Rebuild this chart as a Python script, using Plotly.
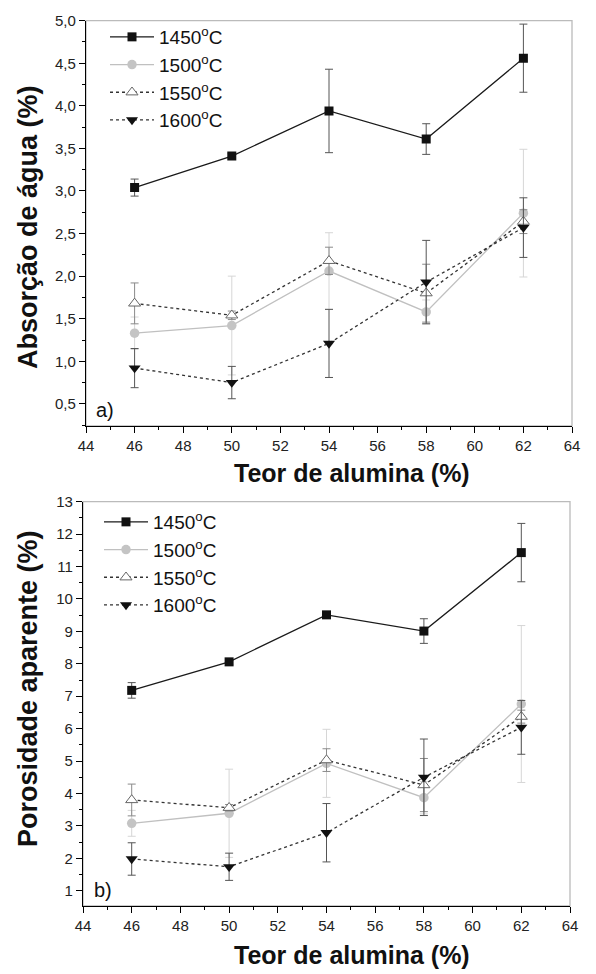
import plotly.graph_objects as go

# ---- data ----
alumina = [46, 50, 54, 58, 62]
series_names = ["1450<sup>o</sup>C", "1500<sup>o</sup>C", "1550<sup>o</sup>C", "1600<sup>o</sup>C"]

abs_1450 = [3.04, 3.41, 3.94, 3.61, 4.56]
abs_1450_err = [0.10, 0.03, 0.49, 0.18, 0.40]
abs_1500 = [1.33, 1.42, 2.06, 1.58, 2.74]
abs_1500_err = [0.19, 0.58, 0.45, 0.14, 0.75]
abs_1550 = [1.68, 1.54, 2.18, 1.80, 2.64]
abs_1550_err = [0.24, 0.05, 0.16, 0.34, 0.14]
abs_1600 = [0.92, 0.75, 1.21, 1.93, 2.57]
abs_1600_err = [0.23, 0.19, 0.40, 0.49, 0.35]

por_1450 = [7.18, 8.06, 9.51, 9.01, 11.43]
por_1450_err = [0.24, 0.08, 0.08, 0.38, 0.90]
por_1500 = [3.08, 3.39, 4.93, 3.87, 6.76]
por_1500_err = [0.40, 1.36, 1.05, 0.50, 2.42]
por_1550 = [3.80, 3.56, 5.03, 4.26, 6.37]
por_1550_err = [0.49, 0.10, 0.35, 0.82, 0.20]
por_1600 = [1.98, 1.74, 2.79, 4.50, 6.04]
por_1600_err = [0.50, 0.42, 0.90, 1.18, 0.83]

FONT = "Arial, Liberation Sans, sans-serif"
W, H = 596, 974

styles = [
    dict(line=dict(color="#1a1a1a", width=1.3, dash="solid"),
         marker=dict(symbol="square", size=9, color="#111111", line=dict(width=0)),
         ecolor="#555555"),
    dict(line=dict(color="#c0c0c0", width=1.3, dash="solid"),
         marker=dict(symbol="circle", size=9.5, color="#c4c4c4", line=dict(width=0)),
         ecolor="#d6d6d6"),
    dict(line=dict(color="#333333", width=1.3, dash="dot"),
         marker=dict(symbol="triangle-up", size=10.5, color="white", line=dict(width=1, color="#666666")),
         ecolor="#8a8a8a"),
    dict(line=dict(color="#333333", width=1.3, dash="dot"),
         marker=dict(symbol="triangle-down", size=10.5, color="#111111", line=dict(width=0)),
         ecolor="#555555"),
]

fig = go.Figure()

top_sets = [(abs_1450, abs_1450_err), (abs_1500, abs_1500_err), (abs_1550, abs_1550_err), (abs_1600, abs_1600_err)]
bot_sets = [(por_1450, por_1450_err), (por_1500, por_1500_err), (por_1550, por_1550_err), (por_1600, por_1600_err)]

for i, (vals, errs) in enumerate(top_sets):
    s = styles[i]
    fig.add_trace(go.Scatter(
        x=alumina, y=vals, mode="lines+markers", name=series_names[i],
        line=s["line"], marker=s["marker"],
        error_y=dict(type="data", array=errs, visible=True, color=s["ecolor"], thickness=1, width=4),
        xaxis="x", yaxis="y", legend="legend"))

for i, (vals, errs) in enumerate(bot_sets):
    s = styles[i]
    fig.add_trace(go.Scatter(
        x=alumina, y=vals, mode="lines+markers", name=series_names[i],
        line=s["line"], marker=s["marker"],
        error_y=dict(type="data", array=errs, visible=True, color=s["ecolor"], thickness=1, width=4),
        xaxis="x2", yaxis="y2", legend="legend2"))

def px_x(p):
    return p / W

def px_y(p):
    return 1 - p / H

xcommon = dict(range=[44, 64], tick0=44, dtick=2, ticks="outside", ticklen=6, tickwidth=1,
               tickcolor="black", showline=True, linecolor="black", linewidth=1.3,
               showgrid=False, zeroline=False, mirror=False, automargin=False,
               tickfont=dict(family=FONT, size=15, color="#222"),
               minor=dict(dtick=1, ticks="outside", ticklen=3, tickcolor="black"))
ycommon = dict(ticks="outside", ticklen=6, tickwidth=1, tickcolor="black",
               showline=True, linecolor="black", linewidth=1.3, showgrid=False, automargin=False,
               zeroline=False, tickfont=dict(family=FONT, size=15, color="#222"))

fig.update_layout(
    width=W, height=H, margin=dict(l=0, r=0, t=0, b=0, autoexpand=False),
    paper_bgcolor="white", plot_bgcolor="white",
    separators=",.",
    showlegend=True,
    xaxis=dict(xcommon, domain=[px_x(86), px_x(572)], anchor="y"),
    yaxis=dict(ycommon, domain=[px_y(426), px_y(20.7)], anchor="x", range=[0.24, 5.0],
               tick0=0.5, dtick=0.5, tickformat=".1f",
               minor=dict(dtick=0.25, ticks="outside", ticklen=3, tickcolor="black")),
    xaxis2=dict(xcommon, domain=[px_x(83), px_x(570)], anchor="y2"),
    yaxis2=dict(ycommon, domain=[px_y(906), px_y(501.7)], anchor="x2", range=[0.53, 13],
                tick0=1, dtick=1,
                minor=dict(dtick=0.5, ticks="outside", ticklen=3, tickcolor="black")),
    legend=dict(x=px_x(105), y=px_y(18), xanchor="left", yanchor="top",
                bgcolor="rgba(0,0,0,0)", font=dict(family=FONT, size=19, color="#111"),
                tracegroupgap=0, itemwidth=44),
    legend2=dict(x=px_x(99), y=px_y(503), xanchor="left", yanchor="top",
                 bgcolor="rgba(0,0,0,0)", font=dict(family=FONT, size=19, color="#111"),
                 tracegroupgap=0, itemwidth=44),
    shapes=[
        dict(type="rect", xref="x domain", yref="y domain", x0=0, x1=1, y0=0, y1=1,
             line=dict(color="#bbbbbb", width=1.3), layer="below"),
        dict(type="rect", xref="x2 domain", yref="y2 domain", x0=0, x1=1, y0=0, y1=1,
             line=dict(color="#bbbbbb", width=1.3), layer="below"),
    ],
    annotations=[
        dict(text="a)", xref="paper", yref="paper", x=px_x(94), y=px_y(410), xanchor="left",
             yanchor="middle", showarrow=False, font=dict(family=FONT, size=20, color="#111")),
        dict(text="b)", xref="paper", yref="paper", x=px_x(92), y=px_y(890), xanchor="left",
             yanchor="middle", showarrow=False, font=dict(family=FONT, size=20, color="#111")),
        dict(text="<b>Teor de alumina (%)</b>", xref="paper", yref="paper", x=px_x(352), y=px_y(473),
             xanchor="center", yanchor="middle", showarrow=False,
             font=dict(family=FONT, size=25, color="#111")),
        dict(text="<b>Teor de alumina (%)</b>", xref="paper", yref="paper", x=px_x(352), y=px_y(955),
             xanchor="center", yanchor="middle", showarrow=False,
             font=dict(family=FONT, size=25, color="#111")),
        dict(text="<b>Absorção de água (%)</b>", xref="paper", yref="paper", x=px_x(28), y=px_y(227),
             xanchor="center", yanchor="middle", showarrow=False, textangle=-90,
             font=dict(family=FONT, size=27, color="#111")),
        dict(text="<b>Porosidade aparente (%)</b>", xref="paper", yref="paper", x=px_x(28), y=px_y(689),
             xanchor="center", yanchor="middle", showarrow=False, textangle=-90,
             font=dict(family=FONT, size=27, color="#111")),
    ],
)

fig.write_html("out.html", config={"displayModeBar": False},
               post_script="document.body.style.margin='0';document.body.style.overflow='hidden';")
